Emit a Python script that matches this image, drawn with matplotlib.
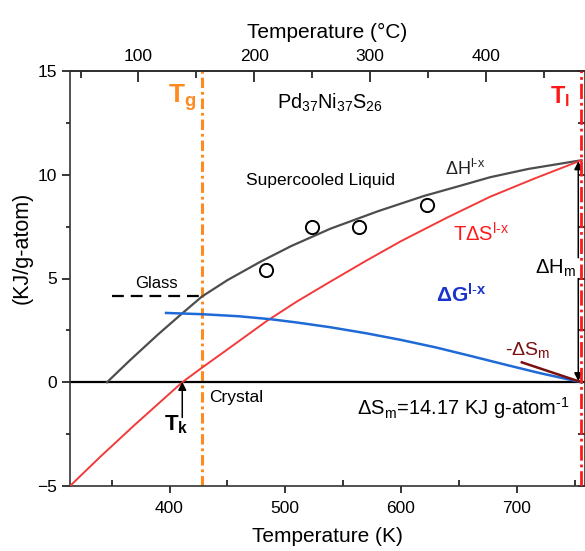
import matplotlib
matplotlib.use("Agg")
import matplotlib.pyplot as plt
from matplotlib.ticker import MultipleLocator, FixedLocator

plt.rcParams["font.family"] = ["Liberation Sans", "DejaVu Sans"]
plt.rcParams["mathtext.fontset"] = "custom"
plt.rcParams["mathtext.rm"] = "Liberation Sans"
plt.rcParams["mathtext.it"] = "Liberation Sans:italic"
plt.rcParams["mathtext.bf"] = "Liberation Sans:bold"
plt.rcParams["lines.scale_dashes"] = False

# ==========================
# Data (K, kJ/g-atom)
# ==========================

T_dH = [346, 366, 390, 409.5, 428, 450, 478.6, 505, 539, 580, 620, 650, 677, 710, 756]
dH = [0, 1.07, 2.3, 3.25, 4.13, 4.92, 5.81, 6.56, 7.40, 8.24, 8.98, 9.45, 9.88, 10.28, 10.7]

T_TdS = [314, 340, 370, 411, 428, 450, 484, 510, 539, 570, 600, 640, 677, 715, 756]
TdS = [-5.0, -3.6, -2.05, 0, 0.7, 1.58, 2.95, 3.89, 4.85, 5.86, 6.8, 7.94, 8.94, 9.81, 10.7]

T_dG = [397, 428, 460, 487, 510, 539, 570, 600, 630, 660, 690, 720, 756]
dG = [3.34, 3.28, 3.18, 3.04, 2.88, 2.65, 2.36, 2.04, 1.68, 1.27, 0.85, 0.44, 0]

T_exp = [483, 523, 563.5, 622.5]
dH_exp = [5.41, 7.5, 7.47, 8.55]

T_dSm = [704.4, 756]
dSm = [0.96, 0]

Tg = 428
Tl = 755.8
Tk = 411
dH_glass = 4.17

celsius_major = [100, 200, 300, 400]
celsius_minor = [50, 150, 250, 350, 450]

# ==========================
# Figure
# ==========================

fig = plt.figure(figsize=(5.85, 5.51), dpi=100)
ax = fig.add_axes([70 / 585, 1 - 486 / 551, 515 / 585, 415 / 551])

ax.axhline(0, color="black", lw=1.6, zorder=2)

ax.axvline(Tg, color="#FF8A1F", lw=2.2, dashes=(7.5, 2.8, 2.0, 2.8), zorder=1)
ax.axvline(Tl, color="#FF1A1A", lw=2.0, dashes=(11, 2.8, 2.0, 2.8), zorder=5)

ax.plot(T_dH, dH, color="#4D4D4D", lw=1.6, zorder=3)
ax.plot(T_TdS, TdS, color="#F23A3A", lw=1.4, zorder=3)
ax.plot(T_dG, dG, color="#1F6AD6", lw=1.8, zorder=3)
ax.plot(T_dSm, dSm, color="#7A1010", lw=1.8, zorder=4)
ax.plot(T_exp, dH_exp, "o", mfc="none", mec="black", mew=1.4, ms=9.5, zorder=4)

ax.plot([350.5, Tg], [dH_glass, dH_glass], color="black", lw=1.6,
        dashes=(8.5, 5), zorder=3)

# arrows
ax.annotate("", xy=(Tk, 0.02), xytext=(Tk, -1.7),
            arrowprops=dict(arrowstyle="-|>", color="black", lw=1.1,
                            mutation_scale=12, shrinkA=0, shrinkB=0))
ax.annotate("", xy=(753.2, 10.65), xytext=(753.2, 6.0),
            arrowprops=dict(arrowstyle="-|>", color="black", lw=1.1,
                            mutation_scale=12, shrinkA=0, shrinkB=0))
ax.annotate("", xy=(753.2, 0.05), xytext=(753.2, 5.0),
            arrowprops=dict(arrowstyle="-|>", color="black", lw=1.1,
                            mutation_scale=12, shrinkA=0, shrinkB=0))

# ==========================
# Labels on the plot
# ==========================

ax.text(423.5, 13.45, r"$\mathbf{T_g}$", color="#FF8A1F", fontsize=19,
        ha="right", va="baseline")
ax.text(746, 13.45, r"$\mathbf{T_l}$", color="#FF1A1A", fontsize=17,
        ha="right", va="baseline")
ax.text(539, 13.2, r"Pd$_{37}$Ni$_{37}$S$_{26}$", fontsize=14.3,
        ha="center", va="baseline")
ax.text(530.5, 9.5, "Supercooled Liquid", fontsize=12.5, ha="center",
        va="baseline")
ax.text(389, 4.55, "Glass", fontsize=12, ha="center", va="baseline")
ax.text(434.5, -0.95, "Crystal", fontsize=12.5, ha="left", va="baseline")
ax.text(395, -2.3, r"$\mathbf{T_k}$", fontsize=16, ha="left", va="baseline")
ax.text(638, 10.0, r"ΔH$^{\text{l-x}}$", fontsize=13, color="#222222",
        ha="left", va="baseline")
ax.text(645, 6.8, r"TΔS$^{\text{l-x}}$", fontsize=14.5, color="#FF1A1A",
        ha="left", va="baseline")
ax.text(630, 3.82, r"$\mathbf{\Delta G^{l\text{-}x}}$", fontsize=15,
        color="#1A33CC", ha="left", va="baseline")
ax.text(751, 5.25, r"ΔH$_{\text{m}}$", fontsize=14.5, ha="right",
        va="baseline", bbox=dict(fc="white", ec="none", pad=0.5))
ax.text(690, 1.3, r"-ΔS$_{\text{m}}$", fontsize=14, color="#7A1010",
        ha="left", va="baseline")
ax.text(562, -1.58, r"ΔS$_{\text{m}}$=14.17 KJ g-atom$^{\text{-1}}$",
        fontsize=14.5, ha="left", va="baseline")

# ==========================
# Axes
# ==========================

ax.set_xlim(314, 759)
ax.set_ylim(-5, 15)

ax.xaxis.set_major_locator(MultipleLocator(100))
ax.xaxis.set_minor_locator(MultipleLocator(50))
ax.yaxis.set_major_locator(MultipleLocator(5))
ax.yaxis.set_minor_locator(MultipleLocator(2.5))

ax.tick_params(axis="x", which="major", direction="out", length=5, width=1.1,
               labelsize=12.5, pad=6)
ax.tick_params(axis="x", which="minor", direction="in", length=4, width=1.1)
ax.tick_params(axis="y", which="major", direction="out", length=6, width=1.1,
               labelsize=12.5)
ax.tick_params(axis="y", which="minor", direction="out", length=3, width=1.1)
for s in ax.spines.values():
    s.set_linewidth(1.2)
    s.set_color("#333333")

ax.set_xlabel("Temperature (K)", fontsize=15, labelpad=8)
ax.set_ylabel("(KJ/g-atom)", fontsize=15.5)
ax.yaxis.set_label_coords(-0.072, 0.575)

# right side: inward ticks only
right = ax.secondary_yaxis("right")
right.yaxis.set_major_locator(MultipleLocator(5))
right.yaxis.set_minor_locator(MultipleLocator(2.5))
right.tick_params(which="both", direction="in", length=5, width=1.1,
                  labelright=False)

top = ax.secondary_xaxis("top", functions=(lambda t: t - 273.15,
                                           lambda c: c + 273.15))
top.xaxis.set_major_locator(FixedLocator(celsius_major))
top.xaxis.set_minor_locator(FixedLocator(celsius_minor))
top.tick_params(which="major", direction="in", length=8, width=1.1,
                labelsize=12.5, pad=5)
top.tick_params(which="minor", direction="in", length=5, width=1.1)
top.spines["top"].set_linewidth(1.2)
top.set_xlabel("Temperature (°C)", fontsize=15, labelpad=8)

fig.savefig("out.png", dpi=100)
